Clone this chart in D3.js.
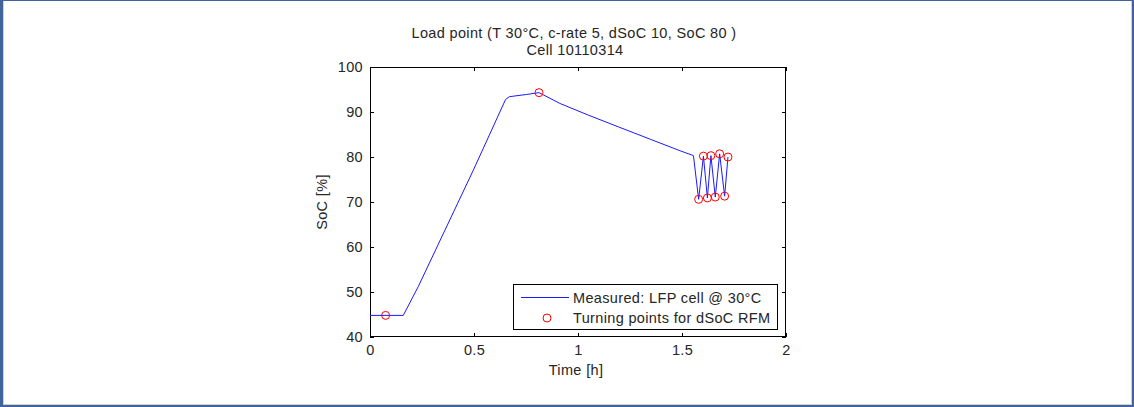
<!DOCTYPE html>
<html>
<head>
<meta charset="utf-8">
<script src="https://cdn.jsdelivr.net/npm/d3@7"></script>
<style>
  html, body { margin: 0; padding: 0; background: #fff; }
  svg { display: block; }
  text { font-family: "Liberation Sans", Arial, sans-serif; letter-spacing: 0.35px; }
</style>
</head>
<body>
<svg id="chart" width="1134" height="407"></svg>
<script>
// ---- data ----
const titleLines = ["Load point (T 30°C, c-rate 5, dSoC 10, SoC 80 )", "Cell 10110314"];
const xLabel = "Time [h]";
const yLabel = "SoC [%]";
const seriesNames = ["Measured: LFP cell @ 30°C", "Turning points for dSoC RFM"];

const timeH = [0, 0.16, 0.232, 0.497, 0.652, 0.67, 0.753, 0.8125, 0.913, 1.05, 1.194, 1.35, 1.49, 1.555,
               1.580, 1.603, 1.622, 1.639, 1.660, 1.681, 1.705, 1.721];
const soc   = [44.8, 44.8, 51.2, 77.1, 92.8, 93.4, 93.9, 94.3, 91.9, 89.3, 86.7, 83.9, 81.4, 80.3,
               70.6, 80.2, 70.9, 80.3, 71.1, 80.7, 71.3, 80.0];

const turnTime = [0.075, 0.8125, 1.580, 1.603, 1.622, 1.639, 1.660, 1.681, 1.705, 1.721];
const turnSoc  = [44.8, 94.3, 70.6, 80.2, 70.9, 80.3, 71.1, 80.7, 71.3, 80.0];

const xTicks = [0, 0.5, 1, 1.5, 2];
const yTicks = [40, 50, 60, 70, 80, 90, 100];

// ---- layout ----
const svg = d3.select("#chart");
const W = 1134, H = 407;
const L = 370, R = 786, T = 67, B = 337;
const fs = 14.5;
const textCol = "#262626";

// outer frame
svg.append("rect").attr("x", 0).attr("y", 0).attr("width", W).attr("height", H).attr("fill", "#41659a");
svg.append("rect").attr("x", 3).attr("y", 1).attr("width", W - 5).attr("height", H - 3).attr("fill", "#d0d0d0");
svg.append("rect").attr("x", 4).attr("y", 1).attr("width", W - 7).attr("height", H - 4).attr("fill", "#ffffff");

const x = d3.scaleLinear().domain([0, 2]).range([L, R]);
const y = d3.scaleLinear().domain([40, 100]).range([B, T]);

svg.append("rect").attr("x", L).attr("y", T).attr("width", R - L).attr("height", B - T).attr("fill", "#fff");

function styleAxis(g, showLabels) {
  g.select(".domain").remove();
  g.selectAll("line").attr("stroke", "#000").attr("stroke-width", 1);
  g.selectAll("text").attr("font-size", fs).attr("fill", textCol)
    .attr("font-family", "'Liberation Sans', Arial, sans-serif");
  if (!showLabels) g.selectAll("text").remove();
}
const fmt = d => String(d);

svg.append("g").attr("transform", `translate(0,${B})`)
  .call(d3.axisBottom(x).tickValues(xTicks).tickFormat(fmt).tickSize(-4).tickPadding(8))
  .call(g => styleAxis(g, true));
svg.append("g").attr("transform", `translate(0,${T})`)
  .call(d3.axisTop(x).tickValues(xTicks).tickFormat(fmt).tickSize(-4))
  .call(g => styleAxis(g, false));
svg.append("g").attr("transform", `translate(${L},0)`)
  .call(d3.axisLeft(y).tickValues(yTicks).tickFormat(fmt).tickSize(-4).tickPadding(7))
  .call(g => styleAxis(g, true));
svg.append("g").attr("transform", `translate(${R},0)`)
  .call(d3.axisRight(y).tickValues(yTicks).tickFormat(fmt).tickSize(-4))
  .call(g => styleAxis(g, false));

svg.append("rect").attr("x", L + 0.5).attr("y", T + 0.5).attr("width", R - L - 1).attr("height", B - T - 1)
  .attr("fill", "none").attr("stroke", "#000").attr("stroke-width", 1);

// measured line
const line = d3.line().x((d, i) => x(timeH[i])).y((d, i) => y(soc[i]));
svg.append("path").datum(soc).attr("d", line)
  .attr("fill", "none").attr("stroke", "#1a1aff").attr("stroke-width", 1);

// turning points
svg.append("g").selectAll("circle").data(turnSoc).join("circle")
  .attr("cx", (d, i) => x(turnTime[i])).attr("cy", d => y(d)).attr("r", 4)
  .attr("fill", "none").attr("stroke", "#ff0000").attr("stroke-width", 1);

// titles
const cx = (L + R) / 2 - 4;
svg.append("text").attr("x", cx).attr("y", 38).attr("text-anchor", "middle")
  .attr("font-size", fs).attr("fill", textCol).text(titleLines[0]);
svg.append("text").attr("x", cx + 1).attr("y", 55).attr("text-anchor", "middle")
  .attr("font-size", fs).attr("fill", textCol).text(titleLines[1]);

svg.append("text").attr("x", (L + R) / 2 - 2).attr("y", 375).attr("text-anchor", "middle")
  .attr("font-size", fs).attr("fill", textCol).text(xLabel);
svg.append("text").attr("transform", `translate(327,${(T + B) / 2}) rotate(-90)`)
  .attr("text-anchor", "middle").attr("font-size", fs).attr("fill", textCol).text(yLabel);

// legend
const lg = svg.append("g");
lg.append("rect").attr("x", 513.5).attr("y", 284.5).attr("width", 264).attr("height", 45)
  .attr("fill", "#fff").attr("stroke", "#000").attr("stroke-width", 1);
lg.append("line").attr("x1", 521).attr("x2", 569).attr("y1", 297.5).attr("y2", 297.5)
  .attr("stroke", "#1a1aff").attr("stroke-width", 1);
lg.append("text").attr("x", 573).attr("y", 302.5).attr("font-size", fs).attr("fill", textCol).text(seriesNames[0]);
lg.append("circle").attr("cx", 547).attr("cy", 318).attr("r", 4)
  .attr("fill", "none").attr("stroke", "#ff0000").attr("stroke-width", 1);
lg.append("text").attr("x", 573).attr("y", 323).attr("font-size", fs).attr("fill", textCol).text(seriesNames[1]);
</script>
</body>
</html>
